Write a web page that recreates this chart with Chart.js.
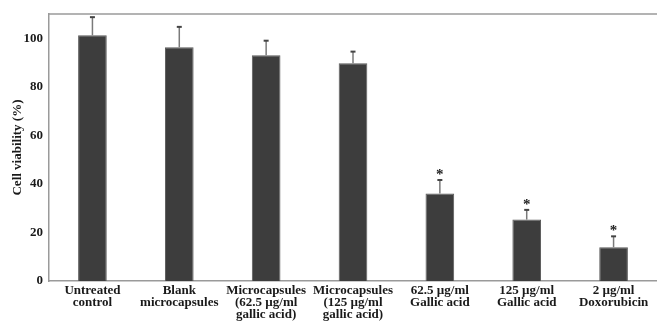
<!DOCTYPE html>
<html>
<head>
<meta charset="utf-8">
<script src="https://cdn.jsdelivr.net/npm/chart.js@4/dist/chart.umd.min.js"></script>
<style>
  body { margin: 0; background: #fff; }
  #wrap { width: 657px; height: 325px; }
</style>
</head>
<body>
<div id="wrap"><canvas id="bar-chart" width="657" height="325"></canvas></div>
<script>
// groups and values
var labels = [
  ["Untreated", "control"],
  ["Blank", "microcapsules"],
  ["Microcapsules", "(62.5 \u00b5g/ml", "gallic acid)"],
  ["Microcapsules", "(125 \u00b5g/ml", "gallic acid)"],
  ["62.5 \u00b5g/ml", "Gallic acid"],
  ["125 \u00b5g/ml", "Gallic acid"],
  ["2 \u00b5g/ml", "Doxorubicin"]
];
var viability = [101.2, 96.3, 93.0, 89.7, 36.1, 25.3, 13.9];
var errors = [7.5, 8.4, 6.0, 4.8, 5.5, 4.0, 4.5];
var significant = [false, false, false, false, true, true, true];
var yTicks = [0, 20, 40, 60, 80, 100];

var serif = "'Liberation Serif', 'Times New Roman', serif";

var errorBars = {
  id: 'errorBars',
  afterDatasetsDraw: function(chart) {
    var ctx = chart.ctx;
    var meta = chart.getDatasetMeta(0);
    var y = chart.scales.y;
    ctx.save();
    meta.data.forEach(function(bar, i) {
      var top = y.getPixelForValue(viability[i] + errors[i]);
      ctx.strokeStyle = '#7a7a7a';
      ctx.lineWidth = 1.5;
      ctx.beginPath();
      ctx.moveTo(bar.x, bar.y);
      ctx.lineTo(bar.x, top);
      ctx.stroke();
      ctx.strokeStyle = '#444';
      ctx.lineWidth = 2;
      ctx.beginPath();
      ctx.moveTo(bar.x - 2.5, top);
      ctx.lineTo(bar.x + 2.5, top);
      ctx.stroke();
      if (significant[i]) {
        ctx.fillStyle = '#222';
        ctx.font = 'bold 15px ' + serif;
        ctx.textAlign = 'center';
        ctx.textBaseline = 'alphabetic';
        ctx.fillText('*', bar.x, top - 1);
      }
    });
    // top frame line
    ctx.strokeStyle = '#9a9a9a';
    ctx.lineWidth = 1.5;
    ctx.beginPath();
    ctx.moveTo(chart.chartArea.left, chart.chartArea.top);
    ctx.lineTo(chart.width, chart.chartArea.top);
    ctx.stroke();
    ctx.restore();
  }
};

var ctx = document.getElementById("bar-chart").getContext("2d");
var myChart = new Chart(ctx, {
  type: 'bar',
  data: {
    labels: labels,
    datasets: [{
      data: viability,
      backgroundColor: '#3d3d3d',
      borderColor: '#5a5a5a',
      borderWidth: 1,
      categoryPercentage: 1,
      barPercentage: 0.33
    }]
  },
  options: {
    responsive: false,
    animation: false,
    layout: { padding: { top: 14, right: 0, left: 0, bottom: 0 } },
    plugins: { legend: { display: false }, tooltip: { enabled: false } },
    scales: {
      x: {
        grid: { display: false, drawTicks: false },
        border: { color: '#9a9a9a', width: 1.5 },
        ticks: {
          color: '#1a1a1a',
          font: { family: serif, size: 13, weight: 'bold', lineHeight: 0.95 },
          maxRotation: 0,
          autoSkip: false,
          padding: 3
        },
        afterFit: function(scale) { scale.height = 44; }
      },
      y: {
        min: 0,
        max: 110,
        afterBuildTicks: function(scale) {
          scale.ticks = yTicks.map(function(v) { return { value: v }; });
        },
        grid: { display: false, drawTicks: true, tickLength: 4, tickColor: '#9a9a9a' },
        border: { color: '#9a9a9a', width: 1.5 },
        ticks: {
          color: '#1a1a1a',
          font: { family: serif, size: 13, weight: 'bold' },
          padding: 2
        },
        title: {
          display: true,
          text: 'Cell viability (%)',
          color: '#1a1a1a',
          font: { family: serif, size: 13, weight: 'bold' },
          padding: { top: 10, bottom: 0 }
        },
        afterFit: function(scale) { scale.width = 49; }
      }
    }
  },
  plugins: [errorBars]
});
</script>
</body>
</html>
